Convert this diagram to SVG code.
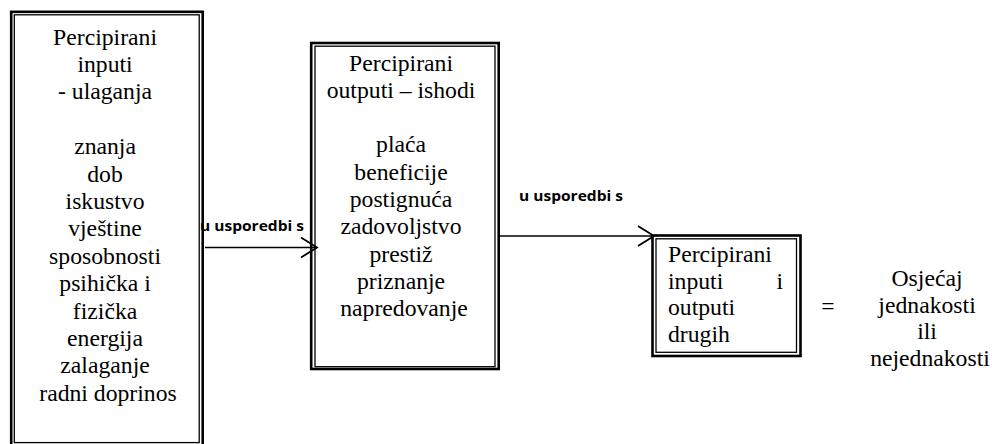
<svg xmlns="http://www.w3.org/2000/svg" width="992" height="444" viewBox="0 0 992 444">
<style>
.bg{fill:#fff}
.outer{fill:none;stroke:#000;stroke-width:2.6}
.inner{fill:none;stroke:#000;stroke-width:1.3}
.t{font-family:"Liberation Serif","Times New Roman",serif;font-size:23.7px;fill:#000}
.c{text-anchor:middle}
.lbl{font-family:"Open Sans","Liberation Sans",sans-serif;font-size:14.5px;font-weight:bold;fill:#000}
.conn{fill:none;stroke:#000;stroke-width:1.6}
</style>
<defs>
<marker id="arr" viewBox="0 0 19 22" refX="17" refY="11" markerWidth="19" markerHeight="22" markerUnits="userSpaceOnUse" orient="auto">
<path d="M1,1 L17,11 L1,21" fill="none" stroke="#000" stroke-width="1.8"/>
</marker>
</defs>
<rect class="bg" x="0" y="0" width="992" height="444"/>

<g id="node-inputs">
<rect class="outer" x="11.2" y="11.8" width="191.5" height="440"/>
<rect class="inner" x="14.3" y="14.8" width="184.9" height="427.8"/>
<text class="t c">
<tspan x="108" y="44.5">Percipirani</tspan>
<tspan x="108" y="71.9">inputi</tspan>
<tspan x="108" y="99.3">- ulaganja</tspan>
<tspan x="108" y="154.1">znanja</tspan>
<tspan x="108" y="181.5">dob</tspan>
<tspan x="108" y="208.9">iskustvo</tspan>
<tspan x="108" y="236.3">vještine</tspan>
<tspan x="108" y="263.7">sposobnosti</tspan>
<tspan x="108" y="291.1">psihička i</tspan>
<tspan x="108" y="318.5">fizička</tspan>
<tspan x="108" y="345.9">energija</tspan>
<tspan x="108" y="373.3">zalaganje</tspan>
<tspan x="108" y="400.7">radni doprinos</tspan>
</text>
</g>

<g id="node-outputs">
<rect class="outer" x="311.2" y="43" width="187.5" height="326"/>
<rect class="inner" x="315" y="46.2" width="180" height="320.5"/>
<text class="t c">
<tspan x="404" y="70.5">Percipirani</tspan>
<tspan x="404" y="97.8">outputi – ishodi</tspan>
<tspan x="404" y="152.4">plaća</tspan>
<tspan x="404" y="179.7">beneficije</tspan>
<tspan x="404" y="207">postignuća</tspan>
<tspan x="404" y="234.3">zadovoljstvo</tspan>
<tspan x="404" y="261.6">prestiž</tspan>
<tspan x="404" y="288.9">priznanje</tspan>
<tspan x="404" y="316.2">napredovanje</tspan>
</text>
</g>

<g id="node-others">
<rect class="outer" x="652.5" y="235.5" width="148" height="120.5"/>
<rect class="inner" x="656" y="238.8" width="140.5" height="113.5"/>
<text class="t">
<tspan x="668" y="262">Percipirani</tspan>
<tspan x="668" y="288.7">inputi</tspan><tspan x="776.5" y="288.7">i</tspan>
<tspan x="668" y="315.4">outputi</tspan>
<tspan x="668" y="342">drugih</tspan>
</text>
</g>

<g id="equals">
<text class="t c" x="828" y="314">=</text>
</g>

<g id="node-feeling">
<text class="t c">
<tspan x="930" y="286">Osjećaj</tspan>
<tspan x="930" y="312.5">jednakosti</tspan>
<tspan x="930" y="339">ili</tspan>
<tspan x="930" y="365.5">nejednakosti</tspan>
</text>
</g>

<g id="connectors">
<line class="conn" x1="205" y1="247.5" x2="317" y2="247.5" marker-end="url(#arr)"/>
<text class="lbl" x="200" y="231" textLength="104" lengthAdjust="spacingAndGlyphs">u usporedbi s</text>
<line class="conn" x1="500" y1="236" x2="654" y2="236" marker-end="url(#arr)"/>
<text class="lbl" x="519" y="201" textLength="104" lengthAdjust="spacingAndGlyphs">u usporedbi s</text>
</g>
</svg>
